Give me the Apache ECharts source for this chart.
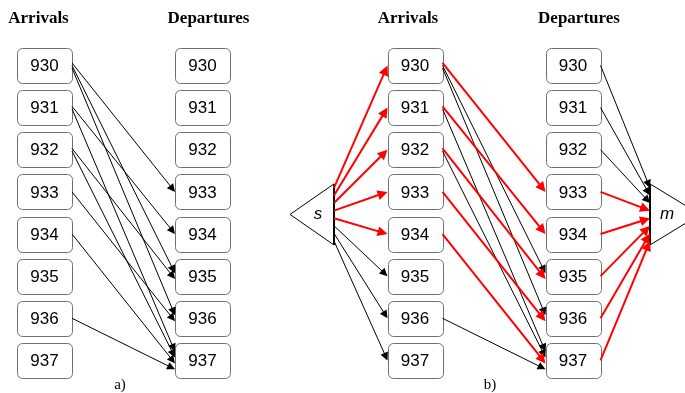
<!DOCTYPE html>
<html>
<head>
<meta charset="utf-8">
<script src="https://cdn.jsdelivr.net/npm/echarts@6/dist/echarts.min.js"></script>
<style>
  html, body { margin: 0; background: #fff; }
  #chart { width: 685px; height: 393px; }
</style>
</head>
<body>
<div id="chart"></div>
<script>
// flight numbers, same list for arrivals and departures
var flights = ['930', '931', '932', '933', '934', '935', '936', '937']
// feasible connections arrival -> departure (panel a)
var connections = [
  ['930', '933'], ['930', '935'], ['930', '936'],
  ['931', '934'], ['931', '937'],
  ['932', '935'], ['932', '937'],
  ['933', '936'],
  ['934', '937'],
  ['936', '937']
]
// connections picked in panel b (red)
var chosen = [['930', '933'], ['931', '934'], ['932', '935'], ['933', '936'], ['934', '937']]
// arcs s -> arrival and departure -> m drawn red in panel b
var sourceRed = ['930', '931', '932', '933', '934']
var sinkRed = ['933', '934', '935', '936', '937']
var headers = ['Arrivals', 'Departures']
var panelNames = ['a)', 'b)']

// layout
var BOX_W = 55, BOX_H = 35
var ROW_PX = 42.14 // pixel height of one row (grid height / 8)
var COLS = { a: { arr: 44.5, dep: 202.5 }, b: { arr: 415, dep: 573 } }
var S_TIP = 290, S_BACK = 334, M_BACK = 650, M_TIP = 700
var TRI_TOP = 2.81, TRI_BOT = 4.26, TRI_MID = 3.535
var ARROW_BLACK = 8, ARROW_RED = 10

function row(f) { return flights.indexOf(f) }
function isChosen(p) { return chosen.some(function (c) { return c[0] === p[0] && c[1] === p[1] }) }

// pull the end back so the arrow tip touches the box instead of its centre
function tipAt(coords, size) {
  var x1 = coords[0][0], y1 = coords[0][1], x2 = coords[1][0], y2 = coords[1][1]
  var dx = x2 - x1, dy = (y2 - y1) * ROW_PX
  var d = Math.sqrt(dx * dx + dy * dy), k = size / 2 / d
  return [[x1, y1], [x2 - dx * k, y2 - dy * k / ROW_PX]]
}

// spread the ends of arcs that share a box a little
function fan(pairs, x1, x2) {
  var out = {}, inc = {}
  pairs.forEach(function (p) {
    (out[p[0]] = out[p[0]] || []).push(p);
    (inc[p[1]] = inc[p[1]] || []).push(p)
  })
  return pairs.map(function (p) {
    var o = out[p[0]], i = inc[p[1]]
    var y1 = row(p[0]) + (o.indexOf(p) - (o.length - 1) / 2) * 0.06
    var y2 = row(p[1]) + (i.indexOf(p) - (i.length - 1) / 2) * 0.14
    return { pair: p, coords: [[x1, y1], [x2, y2]] }
  })
}

var fanA = fan(connections, COLS.a.arr + BOX_W / 2, COLS.a.dep - BOX_W / 2)
var fanB = fan(connections, COLS.b.arr + BOX_W / 2, COLS.b.dep - BOX_W / 2)

var blackA = fanA.map(function (e) { return { coords: tipAt(e.coords, ARROW_BLACK) } })
var blackB = [], redB = []
function addB(isRed, coords) {
  if (isRed) redB.push({ coords: tipAt(coords, ARROW_RED) })
  else blackB.push({ coords: tipAt(coords, ARROW_BLACK) })
}
fanB.forEach(function (e) { addB(isChosen(e.pair), e.coords) })
flights.forEach(function (f, i) {
  var side = TRI_MID + (i - 3.5) * 0.18
  addB(sourceRed.indexOf(f) >= 0, [[S_BACK, side], [COLS.b.arr - BOX_W / 2, row(f)]])
  addB(sinkRed.indexOf(f) >= 0, [[COLS.b.dep + BOX_W / 2, row(f)], [M_BACK, side]])
})

var boxData = []
;[COLS.a.arr, COLS.a.dep, COLS.b.arr, COLS.b.dep].forEach(function (x) {
  flights.forEach(function (f) { boxData.push([x, row(f)]) })
})

var headFont = 'bold 17px "Liberation Serif"'
var chart = echarts.init(document.getElementById('chart'))
chart.setOption({
  animation: false,
  grid: { left: 0, right: 0, top: 44.4, bottom: 11.5 },
  xAxis: { type: 'value', min: 0, max: 685, show: false },
  yAxis: { type: 'value', min: -0.5, max: 7.5, inverse: true, show: false },
  graphic: [
    { type: 'text', x: COLS.a.arr - 6, y: 19, style: { text: headers[0], font: headFont, fill: '#000', align: 'center', verticalAlign: 'middle' } },
    { type: 'text', x: COLS.a.dep + 6, y: 19, style: { text: headers[1], font: headFont, fill: '#000', align: 'center', verticalAlign: 'middle' } },
    { type: 'text', x: COLS.b.arr - 7, y: 19, style: { text: headers[0], font: headFont, fill: '#000', align: 'center', verticalAlign: 'middle' } },
    { type: 'text', x: COLS.b.dep + 6, y: 19, style: { text: headers[1], font: headFont, fill: '#000', align: 'center', verticalAlign: 'middle' } },
    { type: 'text', x: 120, y: 385, style: { text: panelNames[0], font: '15px "Liberation Serif"', fill: '#000', align: 'center', verticalAlign: 'middle' } },
    { type: 'text', x: 490, y: 385, style: { text: panelNames[1], font: '15px "Liberation Serif"', fill: '#000', align: 'center', verticalAlign: 'middle' } }
  ],
  series: [
    {
      type: 'custom',
      z: 1,
      data: boxData,
      renderItem: function (params, api) {
        var c = api.coord([api.value(0), api.value(1)])
        return {
          type: 'group',
          children: [
            { type: 'rect', shape: { x: Math.round(c[0] - BOX_W / 2) + 0.5, y: Math.round(c[1] - BOX_H / 2) + 0.5, width: BOX_W, height: BOX_H, r: 5 }, style: { fill: '#fff', stroke: '#707070', lineWidth: 1 } },
            { type: 'text', x: c[0], y: c[1] + 1, style: { text: flights[api.value(1)], font: '17px "Liberation Sans"', fill: '#000', align: 'center', verticalAlign: 'middle' } }
          ]
        }
      }
    },
    {
      type: 'custom',
      z: 1,
      data: [[0]],
      renderItem: function (params, api) {
        function p(x, y) { return api.coord([x, y]) }
        var sTop = p(S_BACK, TRI_TOP), sBot = p(S_BACK, TRI_BOT)
        var mTop = p(M_BACK, TRI_TOP), mBot = p(M_BACK, TRI_BOT)
        return {
          type: 'group',
          children: [
            { type: 'polygon', shape: { points: [p(S_TIP, TRI_MID), sTop, sBot] }, style: { fill: '#fff', stroke: '#000', lineWidth: 1 } },
            { type: 'line', shape: { x1: sTop[0], y1: sTop[1], x2: sBot[0], y2: sBot[1] }, style: { stroke: '#000', lineWidth: 2 } },
            { type: 'text', x: p(318, TRI_MID)[0], y: p(318, TRI_MID)[1], style: { text: 's', font: 'italic 17px "Liberation Sans"', fill: '#000', align: 'center', verticalAlign: 'middle' } },
            { type: 'polygon', shape: { points: [mTop, mBot, p(M_TIP, TRI_MID)] }, style: { fill: '#fff', stroke: '#000', lineWidth: 1 } },
            { type: 'line', shape: { x1: mTop[0], y1: mTop[1], x2: mBot[0], y2: mBot[1] }, style: { stroke: '#000', lineWidth: 2 } },
            { type: 'text', x: p(667, TRI_MID)[0], y: p(667, TRI_MID)[1], style: { text: 'm', font: 'italic 17px "Liberation Sans"', fill: '#000', align: 'center', verticalAlign: 'middle' } }
          ]
        }
      }
    },
    {
      type: 'lines',
      coordinateSystem: 'cartesian2d',
      z: 2,
      symbol: ['none', 'triangle'],
      symbolSize: ARROW_BLACK,
      lineStyle: { color: '#000', width: 1, opacity: 1 },
      data: blackA
    },
    {
      type: 'lines',
      coordinateSystem: 'cartesian2d',
      z: 2,
      symbol: ['none', 'triangle'],
      symbolSize: ARROW_BLACK,
      lineStyle: { color: '#000', width: 1, opacity: 1 },
      data: blackB
    },
    {
      type: 'lines',
      coordinateSystem: 'cartesian2d',
      z: 3,
      symbol: ['none', 'triangle'],
      symbolSize: ARROW_RED,
      lineStyle: { color: '#ff0000', width: 2, opacity: 1 },
      data: redB
    }
  ]
})
</script>
</body>
</html>
